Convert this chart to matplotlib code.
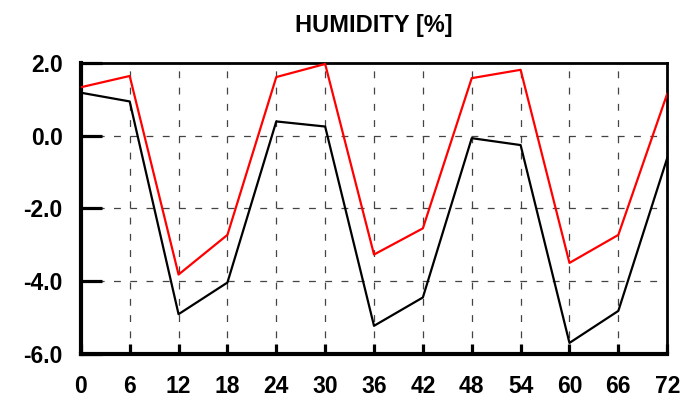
import matplotlib
matplotlib.use("Agg")
from matplotlib import pyplot as plt

# Forecast hours and the two humidity series
hours = [0, 6, 12, 18, 24, 30, 36, 42, 48, 54, 60, 66, 72]
red_vals = [1.33, 1.64, -3.82, -2.73, 1.61, 1.97, -3.27, -2.55, 1.58, 1.81, -3.50, -2.73, 1.15]
black_vals = [1.18, 0.94, -4.91, -4.04, 0.39, 0.25, -5.23, -4.45, -0.07, -0.26, -5.70, -4.82, -0.62]

y_ticks = [-6.0, -4.0, -2.0, 0.0, 2.0]
y_labels = ["-6.0", "-4.0", "-2.0", "0.0", "2.0"]

plt.rcParams['font.family'] = ['Liberation Sans', 'DejaVu Sans']

fig = plt.figure(figsize=(6.85, 3.98), dpi=100)
ax = fig.add_axes([0.118, 0.111, 0.856, 0.731])

# Data lines
ax.plot(hours, black_vals, color='black', linewidth=1.6, zorder=3)
ax.plot(hours, red_vals, color='#ff0000', linewidth=1.6, zorder=4)

# Axes limits and ticks
ax.set_xlim(0, 72)
ax.set_ylim(-6, 2)
ax.set_xticks(hours)
ax.set_yticks(y_ticks)
ax.set_yticklabels(y_labels)
ax.tick_params(direction='in', width=2.3, labelsize=16.5)
ax.tick_params(axis='x', length=7.5, pad=15)
ax.tick_params(axis='y', length=15, pad=13)
for lab in ax.get_xticklabels() + ax.get_yticklabels():
    lab.set_fontweight('bold')

# Dashed grid
ax.grid(True, color='#444444', linestyle=(0, (5.5, 7.5)), linewidth=0.9)

# Frame: thicker on left/bottom
ax.spines['left'].set_linewidth(3)
ax.spines['bottom'].set_linewidth(3)
ax.spines['top'].set_linewidth(2)
ax.spines['right'].set_linewidth(2)

ax.set_title('HUMIDITY [%]', fontsize=17, fontweight='bold', pad=22)

plt.savefig('out.png', dpi=100)
